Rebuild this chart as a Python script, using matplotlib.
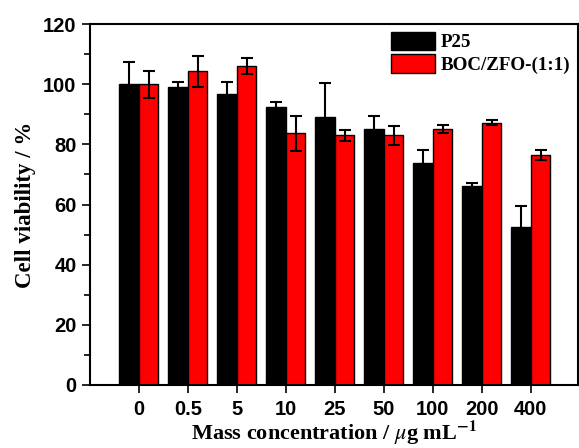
import matplotlib
matplotlib.use("Agg")
import matplotlib.pyplot as plt
import numpy as np

# plot parameter setup
matplotlib.rcParams["axes.linewidth"] = 1.5
matplotlib.rcParams["mathtext.fontset"] = "stix"
matplotlib.rcParams["xtick.major.size"] = 6
matplotlib.rcParams["ytick.major.size"] = 6
matplotlib.rcParams["ytick.minor.size"] = 4
matplotlib.rcParams["xtick.major.width"] = 1.2
matplotlib.rcParams["ytick.major.width"] = 1.2
matplotlib.rcParams["ytick.minor.width"] = 1.2

conc = ['0', '0.5', '5', '10', '25', '50', '100', '200', '400']
p25 = [100.0, 99.1, 96.9, 92.3, 89.0, 85.2, 73.9, 66.3, 52.5]
p25_err = [7.5, 1.5, 3.8, 1.8, 11.3, 4.4, 4.2, 0.8, 7.0]
boc = [100.0, 104.3, 106.1, 83.7, 83.0, 83.0, 85.1, 87.2, 76.5]
boc_err = [4.4, 5.1, 2.8, 5.8, 1.9, 3.1, 1.3, 0.9, 1.6]

fig = plt.figure(figsize=(5.79, 4.48), dpi=100)
ax = fig.add_axes([0.155, 0.141, 0.843, 0.805])

x = np.arange(len(conc))
w = 0.4
ax.bar(x - w/2, p25, w, color='black', edgecolor='black', linewidth=1.0,
       yerr=p25_err, error_kw=dict(ecolor='black', elinewidth=1.5, capsize=4, capthick=1.5),
       label='P25')
ax.bar(x + w/2, boc, w, color='#ff0000', edgecolor='black', linewidth=1.0,
       yerr=boc_err, error_kw=dict(ecolor='black', elinewidth=1.5, capsize=4, capthick=1.5),
       label='BOC/ZFO-(1:1)')

ax.set_xlim(-1, 8.96)
ax.set_ylim(0, 120)
ax.set_xticks(x)
ax.set_xticklabels(conc)
ax.set_yticks(np.arange(0, 121, 20))
ax.set_yticks(np.arange(10, 120, 20), minor=True)
ax.tick_params(axis='both', direction='out', labelsize=14.5)
ax.tick_params(axis='x', pad=5)
for lab in ax.get_xticklabels() + ax.get_yticklabels():
    lab.set_fontweight('bold')
    lab.set_family('Liberation Sans')

ax.set_xlabel('Mass concentration / $\\mu$g mL$^{\\mathbf{-1}}$', fontsize=16,
              fontweight='bold', family='Liberation Serif', labelpad=0)
ax.set_ylabel('Cell viability / %', fontsize=16.5, fontweight='bold',
              family='Liberation Serif', labelpad=5)

leg = ax.legend(loc='upper right', frameon=False, handlelength=2.3, handleheight=1.1,
                handletextpad=0.3, labelspacing=0.15, borderaxespad=0.0,
                prop=dict(family='Liberation Serif', weight='bold', size=13.7))

fig.savefig('out.png', dpi=100)
